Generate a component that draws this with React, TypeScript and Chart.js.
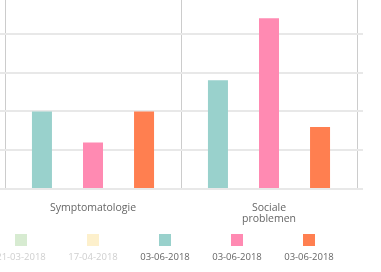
import React, { useEffect, useRef } from "react";
import { Chart, registerables } from "chart.js";

Chart.register(...registerables);

const categories: (string | string[])[] = ["Symptomatologie", ["Sociale", "problemen"]];
const seriesLabels = ["21-03-2018", "17-04-2018", "03-06-2018", "03-06-2018", "03-06-2018"];
const seriesHidden = [true, true, false, false, false];
const seriesColors = ["#d7ebd1", "#fdf0cc", "#99d1cc", "#ff8ab2", "#ff7f50"];
const series0: (number | null)[] = [];
const series1: (number | null)[] = [];
const series2 = [5, 7];
const series3 = [3, 11];
const series4 = [5, 4];
const yMax = 12.5;
const yStep = 2.5;

const FONT = "'Open Sans', 'Noto Sans', sans-serif";

export default function App() {
  const ref = useRef<HTMLCanvasElement | null>(null);

  useEffect(() => {
    if (!ref.current) return;
    const allData = [series0, series1, series2, series3, series4];
    const chart = new Chart(ref.current, {
      type: "bar",
      data: {
        labels: categories,
        datasets: allData.map((d, i) => ({
          label: seriesLabels[i],
          data: d,
          hidden: seriesHidden[i],
          backgroundColor: seriesColors[i],
          borderWidth: 0,
          categoryPercentage: 0.87,
          barPercentage: 0.392,
        })),
      },
      options: {
        animation: false,
        responsive: true,
        maintainAspectRatio: false,
        events: [],
        layout: { padding: 0 },
        plugins: {
          legend: { display: false },
          tooltip: { enabled: false },
        },
        scales: {
          x: {
            grid: { color: "#cccccc", lineWidth: 1, drawTicks: false, offset: true },
            border: { display: false },
            ticks: {
              padding: 14,
              color: "#666666",
              font: { family: FONT, size: 10.5, lineHeight: "11px" },
              maxRotation: 0,
            },
          },
          y: {
            min: 0,
            max: yMax,
            ticks: { display: false, stepSize: yStep },
            grid: { color: "#e8e8e8", lineWidth: 2, tickLength: 6 },
            border: { display: false },
          },
          y2: {
            position: "right",
            display: true,
            min: 0,
            max: yMax,
            ticks: { display: false, stepSize: yStep },
            grid: { color: "#e8e8e8", lineWidth: 2, tickLength: 6, drawOnChartArea: false },
            border: { display: false },
          },
        },
      },
    });
    return () => chart.destroy();
  }, []);

  return (
    <div
      style={{
        position: "fixed",
        left: 0,
        top: 0,
        width: 381,
        height: 272,
        overflow: "hidden",
        background: "#fff",
      }}
    >
      <div style={{ position: "absolute", left: -1, top: -5, width: 364, height: 244 }}>
        <canvas ref={ref} />
      </div>
      <div
        style={{
          position: "absolute",
          left: -15,
          top: 234,
          display: "flex",
          fontFamily: FONT,
          fontSize: 9.5,
        }}
      >
        {seriesLabels.map((lab, i) => (
          <div
            key={i}
            style={{
              width: 72,
              display: "flex",
              flexDirection: "column",
              alignItems: "center",
            }}
          >
            <div style={{ width: 12, height: 12, background: seriesColors[i] }} />
            <div
              style={{
                marginTop: 5,
                lineHeight: "12px",
                whiteSpace: "nowrap",
                color: seriesHidden[i] ? "#cfcfcf" : "#666666",
              }}
            >
              {lab}
            </div>
          </div>
        ))}
      </div>
    </div>
  );
}
